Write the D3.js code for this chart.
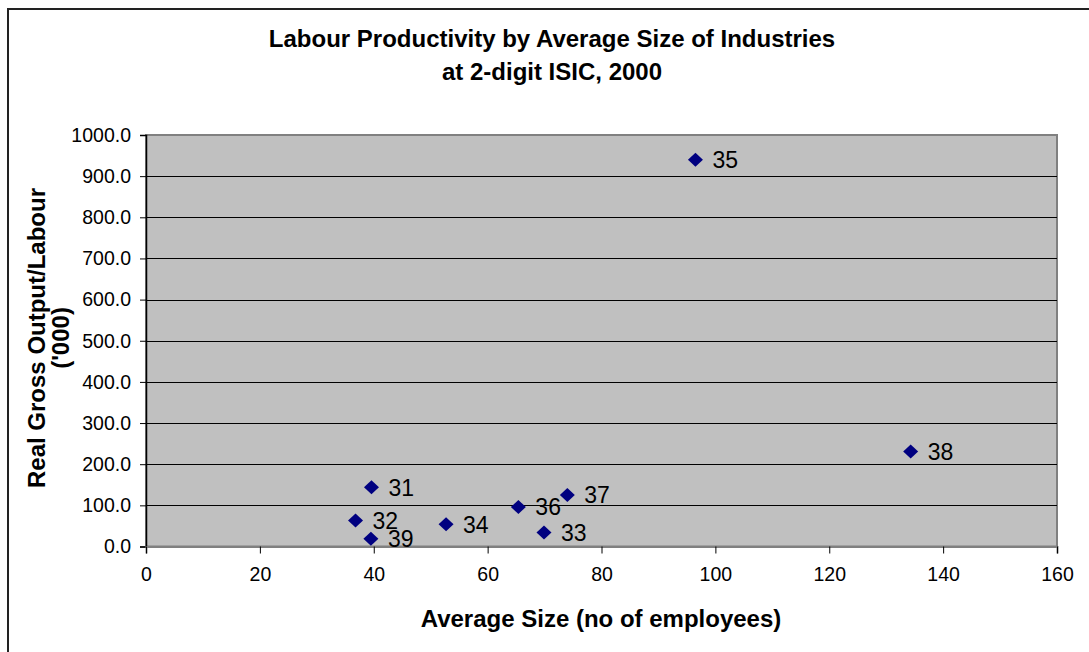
<!DOCTYPE html>
<html>
<head>
<meta charset="utf-8">
<script src="https://cdn.jsdelivr.net/npm/d3@7"></script>
<style>
  html, body { margin: 0; padding: 0; background: #fff; }
  svg { display: block; font-family: Arial, "Liberation Sans", sans-serif; }
</style>
</head>
<body>
<svg id="chart" width="1089" height="652"></svg>
<script>
// Industry codes (2-digit ISIC) with average size and labour productivity, 2000
const industries = ["31", "32", "33", "34", "35", "36", "37", "38", "39"];
const avgSize = [39.6, 36.8, 69.9, 52.7, 96.5, 65.4, 74.0, 134.3, 39.5];
const productivity = [144, 63, 34, 54, 940, 96, 125, 231, 19];

const xTicks = [0, 20, 40, 60, 80, 100, 120, 140, 160];
const yTicks = [0, 100, 200, 300, 400, 500, 600, 700, 800, 900, 1000];

const titleLines = ["Labour Productivity by Average Size of Industries", "at 2-digit ISIC, 2000"];
const xTitle = "Average Size (no of employees)";
const yTitleLines = ["Real Gross Output/Labour", "('000)"];

const svg = d3.select("#chart");
const plot = { left: 146, right: 1057, top: 135, bottom: 546.5 };

// Outer chart frame (clipped by the window on right/bottom)
svg.append("rect")
  .attr("x", 8).attr("y", 9).attr("width", 1100).attr("height", 700)
  .attr("fill", "#fff").attr("stroke", "#222").attr("stroke-width", 2);

const x = d3.scaleLinear().domain([0, 160]).range([plot.left, plot.right]);
const y = d3.scaleLinear().domain([0, 1000]).range([plot.bottom, plot.top]);

// Plot area background and border
svg.append("rect")
  .attr("x", plot.left).attr("y", plot.top)
  .attr("width", plot.right - plot.left).attr("height", plot.bottom - plot.top)
  .attr("fill", "#c0c0c0").attr("stroke", "#808080").attr("stroke-width", 2);

// Horizontal gridlines
svg.append("g")
  .selectAll("line")
  .data(yTicks.filter(d => d > 0 && d < 1000))
  .join("line")
  .attr("x1", plot.left).attr("x2", plot.right)
  .attr("y1", d => Math.round(y(d)) + 0.5).attr("y2", d => Math.round(y(d)) + 0.5)
  .attr("stroke", "#000").attr("stroke-width", 1);

// Axes
const yAxis = d3.axisLeft(y).tickValues(yTicks).tickSize(6).tickPadding(9)
  .tickFormat(d3.format(".1f"));
const yG = svg.append("g").attr("transform", `translate(${plot.left},0)`).call(yAxis);
yG.select(".domain").attr("stroke", "#000").attr("stroke-width", 1.5);
yG.selectAll(".tick line").attr("stroke", "#000");
yG.selectAll(".tick text").attr("fill", "#000").attr("font-size", 19.5)
  .attr("font-family", "Arial, 'Liberation Sans', sans-serif");

const xAxis = d3.axisBottom(x).tickValues(xTicks).tickSize(7).tickPadding(14);
const xG = svg.append("g").attr("transform", `translate(0,${plot.bottom})`).call(xAxis);
xG.select(".domain").attr("stroke", "#808080").attr("stroke-width", 2);
xG.selectAll(".tick line").attr("stroke", "#000");
xG.selectAll(".tick text").attr("fill", "#000").attr("font-size", 19.5)
  .attr("font-family", "Arial, 'Liberation Sans', sans-serif");

// Data points: navy diamonds with industry code labels
const pts = industries.map((code, i) => ({ code, sx: avgSize[i], py: productivity[i] }));
const diamond = "M0,-7L7.5,0L0,7L-7.5,0Z";
const g = svg.append("g");
g.selectAll("path")
  .data(pts)
  .join("path")
  .attr("d", diamond)
  .attr("transform", d => `translate(${x(d.sx)},${y(d.py)})`)
  .attr("fill", "#000080");
g.selectAll("text")
  .data(pts)
  .join("text")
  .attr("x", d => x(d.sx) + 17)
  .attr("y", d => y(d.py))
  .attr("dy", "0.36em")
  .attr("font-size", 23)
  .attr("fill", "#000")
  .text(d => d.code);

// Titles
svg.append("text")
  .attr("x", 552).attr("text-anchor", "middle")
  .attr("font-size", 24).attr("font-weight", "bold")
  .selectAll("tspan")
  .data(titleLines)
  .join("tspan")
  .attr("x", 552)
  .attr("y", (d, i) => 47 + i * 33)
  .text(d => d);

svg.append("text")
  .attr("x", 601).attr("y", 627)
  .attr("text-anchor", "middle")
  .attr("font-size", 24).attr("font-weight", "bold")
  .text(xTitle);

const yt = svg.append("text")
  .attr("transform", "translate(0,338) rotate(-90)")
  .attr("text-anchor", "middle")
  .attr("font-size", 24).attr("font-weight", "bold");
yt.selectAll("tspan")
  .data(yTitleLines)
  .join("tspan")
  .attr("x", 0)
  .attr("y", (d, i) => 45 + i * 24)
  .text(d => d);
</script>
</body>
</html>
